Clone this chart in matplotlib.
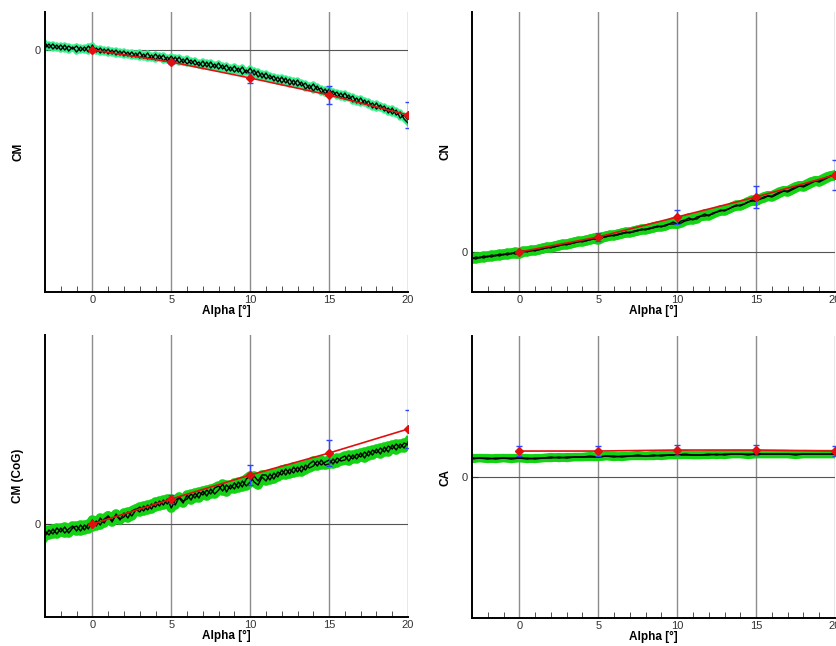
import numpy as np
import matplotlib
matplotlib.use("Agg")
import matplotlib.pyplot as plt
from matplotlib.ticker import MultipleLocator

plt.rcParams['font.family'] = ['Liberation Sans', 'DejaVu Sans']

# sweep alpha, quarter degree steps from -3 to 20 (CA sampled at half degree)
alpha = np.arange(-3, 20.01, 0.25)
alpha_ca = np.arange(-3, 20.01, 0.5)
# balance reference points
alpha_ref = [0, 5, 10, 15, 20]

# CM (values in 1e-3, below zero)
cm_up = -np.array([-7, -2, -6, -1, -5, 0, -4, -1, -4, 1, -3, 2,
                   -5, 2, -2, 3, -1, 4, 0, 5, 1, 6, 2, 7,
                   2, 8, 3, 9, 4, 9, 5, 11, 6, 12, 7, 13,
                   8, 14, 10, 16, 11, 17, 12, 18, 13, 19, 15, 21,
                   16, 22, 17, 23, 18, 25, 21, 28, 23, 29, 26, 32,
                   27, 33, 29, 35, 30, 36, 33, 39, 34, 40, 38, 44,
                   39, 45, 42, 48, 43, 49, 46, 53, 48, 54, 51, 58,
                   53, 59, 56, 63, 58, 65, 62, 69, 73]) * 1e-3
cm_down = -np.array([-2, -6, -1, -5, 0, -5, 1, -3, 2, -3, 1, -4,
                     1, -2, 3, -1, 4, 0, 5, 1, 6, 2, 7, 3,
                     8, 4, 9, 5, 10, 5, 11, 7, 12, 7, 13, 9,
                     14, 10, 15, 12, 17, 12, 18, 14, 19, 15, 21, 17,
                     22, 18, 24, 20, 24, 20, 27, 23, 29, 25, 31, 27,
                     33, 28, 35, 30, 36, 32, 39, 35, 41, 36, 43, 39,
                     45, 41, 47, 43, 49, 45, 52, 48, 54, 50, 56, 53,
                     59, 55, 61, 58, 64, 60, 68, 65, 70]) * 1e-3
cm_ref = [0.0, -0.012, -0.028, -0.045, -0.065]
cm_err = [0.0, 0.002, 0.005, 0.009, 0.013]

# CN (values in 1e-2)
cn_up = np.array([-7, -5, -6, -4, -5, -3, -4, -2, -3, -1, -2, 0,
                  -1, 1, 0, 2, 1, 3, 3, 5, 4, 6, 6, 8,
                  7, 9, 9, 11, 10, 12, 12, 14, 13, 15, 15, 17,
                  16, 18, 18, 20, 19, 21, 21, 23, 22, 24, 24, 26,
                  25, 27, 28, 30, 28, 31, 32, 34, 32, 35, 36, 38,
                  36, 39, 40, 42, 41, 43, 45, 47, 46, 48, 50, 52,
                  51, 53, 54, 56, 55, 57, 59, 61, 60, 62, 64, 66,
                  65, 67, 69, 71, 70, 72, 74, 76, 77]) * 1e-2
cn_down = np.array([-6, -7, -5, -6, -4, -5, -3, -4, -2, -3, -1, -2,
                    -2, 0, 1, 1, 2, 2, 4, 4, 5, 5, 7, 7,
                    8, 8, 10, 10, 11, 11, 13, 13, 12, 14, 16, 16,
                    17, 17, 19, 19, 20, 20, 22, 22, 23, 23, 25, 25,
                    26, 26, 28, 28, 28, 29, 31, 32, 33, 33, 36, 36,
                    37, 38, 40, 41, 42, 43, 45, 46, 47, 48, 50, 51,
                    51, 53, 55, 56, 56, 58, 60, 61, 61, 63, 65, 66,
                    66, 68, 70, 71, 71, 73, 75, 76, 76]) * 1e-2
cn_ref = [0.0, 0.15, 0.35, 0.55, 0.77]
cn_err = [0.0, 0.04, 0.07, 0.11, 0.15]

# CM (CoG) (values in 1e-3)
cmg_up = np.array([-12, -6, -10, -4, -8, -3, -9, -4, -2, -7, -1, -5,
                   4, -2, 6, 1, 8, 3, 9, 4, 11, 6, 13, 15,
                   12, 18, 14, 20, 17, 23, 19, 25, 16, 24, 26, 21,
                   29, 24, 31, 26, 33, 28, 35, 30, 34, 40, 32, 39,
                   35, 42, 37, 45, 48, 42, 39, 47, 43, 50, 45, 52,
                   49, 55, 50, 57, 52, 58, 54, 60, 63, 58, 64, 59,
                   60, 65, 61, 66, 68, 63, 69, 65, 71, 66, 73, 69,
                   75, 70, 77, 72, 79, 74, 80, 76, 82]) * 1e-3
cmg_down = np.array([-7, -11, -5, -10, -4, -9, -5, -2, -7, -1, -6, 0,
                     -3, 3, -1, 5, 8, 2, 10, 5, 7, 12, 8, 14,
                     17, 13, 19, 15, 22, 18, 24, 20, 25, 19, 27, 23,
                     25, 30, 26, 32, 29, 34, 30, 36, 38, 33, 39, 35,
                     41, 36, 43, 38, 42, 48, 43, 49, 49, 44, 51, 47,
                     54, 49, 55, 51, 57, 52, 59, 56, 58, 63, 59, 62,
                     64, 60, 66, 63, 64, 69, 65, 70, 67, 72, 68, 74,
                     71, 76, 72, 78, 75, 80, 76, 81, 79]) * 1e-3
cmg_ref = [0.0, 0.025, 0.049, 0.071, 0.095]
cmg_err = [0.0, 0.004, 0.010, 0.013, 0.019]

# CA (values in 1e-3)
ca_up = np.array([19, 19, 18, 19, 19, 18, 19, 19, 18, 19,
                  19, 20, 19, 20, 20, 20, 20, 21, 20, 21,
                  21, 21, 21, 22, 21, 22, 22, 22, 22, 22,
                  22, 23, 22, 23, 23, 23, 23, 23, 23, 23,
                  23, 23, 23, 23, 23, 23, 23]) * 1e-3
ca_down = np.array([18, 19, 19, 18, 19, 19, 19, 18, 19, 19,
                    20, 19, 20, 20, 20, 21, 20, 21, 21, 20,
                    21, 22, 21, 21, 22, 22, 22, 23, 22, 22,
                    23, 22, 23, 23, 23, 22, 23, 23, 23, 23,
                    23, 22, 23, 23, 23, 23, 23]) * 1e-3
ca_ref = [0.026, 0.026, 0.027, 0.027, 0.026]
ca_err = [0.005, 0.005, 0.005, 0.005, 0.005]


def draw_panel(ax, x, up, down, ref, err, ylabel, ylim, green, glw):
    ax.set_xlim(-3, 20)
    ax.set_ylim(*ylim)
    for s in ['top', 'right']:
        ax.spines[s].set_visible(False)
    for s in ['left', 'bottom']:
        ax.spines[s].set_linewidth(1.4)
    for xv in [0, 5, 10, 15, 20]:
        ax.axvline(xv, color='#8c8c8c', lw=1.0, zorder=1)
    ax.axhline(0, color='#555555', lw=0.8, zorder=1)

    for line in (up, down):
        ax.plot(x, line, color=green, lw=glw, zorder=2,
                solid_joinstyle='round')
    for line in (up, down):
        ax.plot(x, line, color='black', lw=1.0, zorder=3)

    ax.errorbar(alpha_ref, ref, yerr=err, fmt='none', ecolor='#3344ff',
                elinewidth=1.0, capsize=2, capthick=1.0, zorder=4)
    ax.plot(alpha_ref, ref, color='#e01010', lw=1.2, marker='D',
            markersize=4, zorder=5)

    ax.xaxis.set_major_locator(MultipleLocator(5))
    ax.xaxis.set_minor_locator(MultipleLocator(1))
    ax.set_yticks([0])
    ax.tick_params(axis='x', which='major', direction='in', length=0,
                   labelsize=8, pad=2, colors='#333333')
    ax.tick_params(axis='x', which='minor', direction='in', length=4,
                   color='#333333')
    ax.tick_params(axis='y', direction='in', length=4, labelsize=8,
                   pad=3, colors='#333333')
    ax.set_xlabel('Alpha [°]', fontsize=8.5, fontweight='bold', labelpad=0)
    ax.set_ylabel(ylabel, fontsize=8.5, fontweight='bold', labelpad=7.5)


fig = plt.figure(figsize=(8.37, 6.46), dpi=100)
ax_cm = fig.add_axes([0.0538, 0.548, 0.4337, 0.4334])
ax_cn = fig.add_axes([0.5639, 0.548, 0.4337, 0.4334])
ax_cmg = fig.add_axes([0.0538, 0.0449, 0.4337, 0.4365])
ax_ca = fig.add_axes([0.5639, 0.0433, 0.4337, 0.4365])

draw_panel(ax_cm, alpha, cm_up, cm_down, cm_ref, cm_err, 'CM',
           (-0.242, 0.038), '#33f08a', 4)
draw_panel(ax_cn, alpha, cn_up, cn_down, cn_ref, cn_err, 'CN',
           (-0.40, 2.40), '#14d214', 7)
draw_panel(ax_cmg, alpha, cmg_up, cmg_down, cmg_ref, cmg_err, 'CM (CoG)',
           (-0.093, 0.189), '#14d214', 7)
draw_panel(ax_ca, alpha_ca, ca_up, ca_down, ca_ref, ca_err, 'CA',
           (-0.141, 0.141), '#14d214', 6)

fig.savefig('out.png', dpi=100)
